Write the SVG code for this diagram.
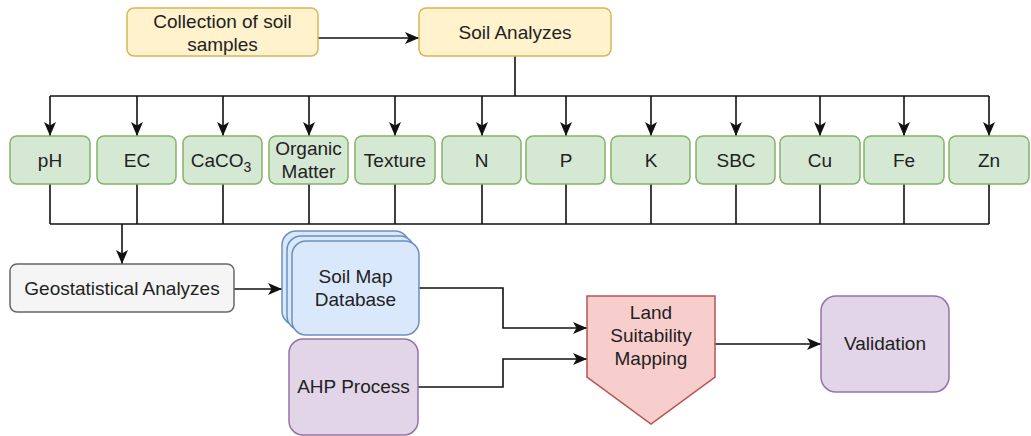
<svg xmlns="http://www.w3.org/2000/svg" width="1031" height="436" viewBox="0 0 1031 436">
<style>
text{font-family:"Liberation Sans",Arial,sans-serif;font-size:19px;fill:#222;text-anchor:middle}
.yel{fill:#fff2cc;stroke:#d6b656;stroke-width:1.5}
.grn{fill:#d5e8d4;stroke:#82b366;stroke-width:1.5}
.gry{fill:#f5f5f5;stroke:#666666;stroke-width:1.5}
.blu{fill:#dae8fc;stroke:#6c8ebf;stroke-width:1.5}
.pur{fill:#e1d5e7;stroke:#9673a6;stroke-width:1.5}
.red{fill:#f8cecc;stroke:#b85450;stroke-width:1.5}
.c{fill:none;stroke:#111;stroke-width:1.6}
.a{marker-end:url(#arr)}
</style>
<defs>
<marker id="arr" markerUnits="userSpaceOnUse" markerWidth="15" markerHeight="13" refX="14" refY="6.5" orient="auto">
<path d="M0,0.5 L14,6.5 L0,12.5 L3.5,6.5 z" fill="#111"/>
</marker>
</defs>
<g id="connectors">
<path class="c a" d="M318,38 H419"/>
<path class="c" d="M515,56 V96 M50,96 H989"/>
<path class="c a" d="M50,96 V136"/>
<path class="c a" d="M137,96 V136"/>
<path class="c a" d="M223,96 V136"/>
<path class="c a" d="M309,96 V136"/>
<path class="c a" d="M395,96 V136"/>
<path class="c a" d="M482,96 V136"/>
<path class="c a" d="M566,96 V136"/>
<path class="c a" d="M651,96 V136"/>
<path class="c a" d="M736,96 V136"/>
<path class="c a" d="M820,96 V136"/>
<path class="c a" d="M904,96 V136"/>
<path class="c a" d="M989,96 V136"/>
<path class="c" d="M50,184 V224 M137,184 V224 M223,184 V224 M309,184 V224 M395,184 V224 M482,184 V224 M566,184 V224 M651,184 V224 M736,184 V224 M820,184 V224 M904,184 V224 M989,184 V224 M50,224 H989"/>
<path class="c a" d="M122,224 V264"/>
<path class="c a" d="M234,289 H282"/>
<path class="c a" d="M419,288 H503 V328 H587"/>
<path class="c a" d="M418,387 H503 V359 H587"/>
<path class="c a" d="M715,344 H821"/>
</g>
<g id="collection"><rect class="yel" x="127" y="8" width="191" height="48" rx="7"/><text x="222.5" y="27.5">Collection of soil</text><text x="222.5" y="50.5">samples</text></g>
<g id="soil-analyzes"><rect class="yel" x="419" y="8" width="192" height="48" rx="7"/><text x="515" y="38.5">Soil Analyzes</text></g>
<g id="ph"><rect class="grn" x="10" y="136" width="80" height="48" rx="7"/><text x="50" y="166.5">pH</text></g>
<g id="ec"><rect class="grn" x="97" y="136" width="79" height="48" rx="7"/><text x="137" y="166.5">EC</text></g>
<g id="caco3"><rect class="grn" x="183" y="136" width="79" height="48" rx="7"/><text x="221" y="166.5">CaCO<tspan font-size="14" dy="5">3</tspan></text></g>
<g id="organic-matter"><rect class="grn" x="269" y="136" width="79" height="48" rx="7"/><text x="308.5" y="155">Organic</text><text x="308.5" y="177.5">Matter</text></g>
<g id="texture"><rect class="grn" x="355" y="136" width="80" height="48" rx="7"/><text x="395" y="166.5">Texture</text></g>
<g id="n"><rect class="grn" x="442" y="136" width="79" height="48" rx="7"/><text x="481.5" y="166.5">N</text></g>
<g id="p"><rect class="grn" x="526" y="136" width="79" height="48" rx="7"/><text x="566" y="166.5">P</text></g>
<g id="k"><rect class="grn" x="611" y="136" width="79" height="48" rx="7"/><text x="651" y="166.5">K</text></g>
<g id="sbc"><rect class="grn" x="696" y="136" width="79" height="48" rx="7"/><text x="736" y="166.5">SBC</text></g>
<g id="cu"><rect class="grn" x="780" y="136" width="80" height="48" rx="7"/><text x="820" y="166.5">Cu</text></g>
<g id="fe"><rect class="grn" x="864" y="136" width="80" height="48" rx="7"/><text x="904" y="166.5">Fe</text></g>
<g id="zn"><rect class="grn" x="949" y="136" width="80" height="48" rx="7"/><text x="989" y="166.5">Zn</text></g>
<g id="geostatistical"><rect class="gry" x="10" y="264" width="224" height="48" rx="7"/><text x="122" y="295">Geostatistical Analyzes</text></g>
<g id="soil-map-database">
<rect class="blu" x="282" y="231" width="127" height="94" rx="14"/>
<rect class="blu" x="287" y="236" width="127" height="94" rx="14"/>
<rect class="blu" x="292" y="241" width="127" height="94" rx="14"/>
<text x="355.5" y="283">Soil Map</text><text x="355.5" y="306">Database</text>
</g>
<g id="ahp"><rect class="pur" x="289" y="339" width="129" height="96" rx="14"/><text x="353.5" y="393">AHP Process</text></g>
<g id="land-suitability"><path class="red" d="M587,296 H715 V377 L651,424 L587,377 Z"/><text x="651" y="319">Land</text><text x="651" y="342">Suitability</text><text x="651" y="365">Mapping</text></g>
<g id="validation"><rect class="pur" x="821" y="296" width="128" height="96" rx="15"/><text x="885" y="350">Validation</text></g>
</svg>
